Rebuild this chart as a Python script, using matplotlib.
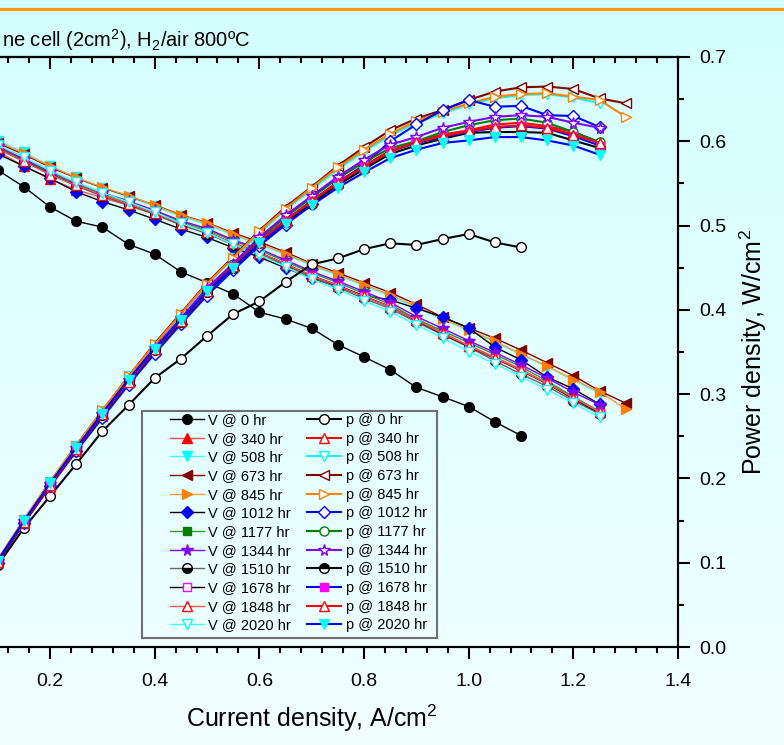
import numpy as np
import matplotlib
matplotlib.use("Agg")
import matplotlib.pyplot as plt
from matplotlib.lines import Line2D
from matplotlib.patches import Rectangle
from matplotlib.ticker import MultipleLocator, FormatStrFormatter, NullFormatter, FuncFormatter

plt.rcParams['font.family'] = ['Liberation Sans', 'DejaVu Sans']
plt.rcParams['mathtext.fontset'] = 'custom'
plt.rcParams['mathtext.rm'] = 'Liberation Sans'
plt.rcParams['mathtext.it'] = 'Liberation Sans:italic'

# current density, A/cm2
current = [0.10, 0.15, 0.20, 0.25, 0.30, 0.35, 0.40, 0.45, 0.50, 0.55, 0.60, 0.65,
           0.70, 0.75, 0.80, 0.85, 0.90, 0.95, 1.00, 1.05, 1.10, 1.15, 1.20, 1.25]
current_long = current + [1.30]
current_0hr = current[:21]

hours = ['0', '340', '508', '673', '845', '1012', '1177', '1344', '1510', '1678', '1848', '2020']

# cell voltage, V
v_0 = [0.970, 0.936, 0.895, 0.866, 0.854, 0.819, 0.799, 0.763, 0.741, 0.718, 0.681, 0.667,
       0.648, 0.615, 0.590, 0.564, 0.528, 0.509, 0.489, 0.458, 0.430]
v_340 = [1.008, 0.978, 0.952, 0.930, 0.914, 0.898, 0.880, 0.860, 0.843, 0.821, 0.802, 0.779,
         0.756, 0.736, 0.714, 0.693, 0.666, 0.640, 0.613, 0.590, 0.565, 0.537, 0.509, 0.479]
v_508 = [1.030, 1.006, 0.979, 0.955, 0.934, 0.916, 0.896, 0.876, 0.859, 0.838, 0.819, 0.798,
         0.776, 0.756, 0.735, 0.714, 0.691, 0.666, 0.644, 0.620, 0.595, 0.570, 0.543, 0.516]
v_673 = [1.025, 1.002, 0.976, 0.954, 0.934, 0.917, 0.899, 0.879, 0.863, 0.842, 0.824, 0.803,
         0.780, 0.761, 0.741, 0.721, 0.697, 0.671, 0.649, 0.628, 0.604, 0.578, 0.552, 0.521, 0.496]
v_845 = [1.028, 1.004, 0.978, 0.955, 0.935, 0.918, 0.898, 0.878, 0.862, 0.840, 0.821, 0.800,
         0.778, 0.758, 0.737, 0.716, 0.693, 0.668, 0.645, 0.622, 0.596, 0.571, 0.544, 0.519, 0.484]
v_1012 = [1.003, 0.978, 0.953, 0.926, 0.906, 0.889, 0.870, 0.850, 0.833, 0.812, 0.793, 0.771,
          0.750, 0.733, 0.715, 0.706, 0.689, 0.671, 0.649, 0.610, 0.584, 0.549, 0.525, 0.494]
v_1177 = [1.017, 0.992, 0.965, 0.942, 0.922, 0.905, 0.886, 0.865, 0.848, 0.826, 0.807, 0.784,
          0.761, 0.741, 0.719, 0.697, 0.667, 0.643, 0.619, 0.595, 0.570, 0.541, 0.509, 0.479]
v_1344 = [1.018, 0.993, 0.967, 0.944, 0.924, 0.907, 0.888, 0.867, 0.851, 0.828, 0.810, 0.787,
          0.764, 0.744, 0.723, 0.701, 0.672, 0.648, 0.623, 0.599, 0.574, 0.547, 0.518, 0.493]
v_1510 = [1.013, 0.988, 0.961, 0.938, 0.917, 0.899, 0.880, 0.858, 0.841, 0.818, 0.799, 0.776,
          0.752, 0.731, 0.709, 0.688, 0.661, 0.635, 0.610, 0.582, 0.555, 0.530, 0.501, 0.474]
v_1678 = [1.014, 0.989, 0.962, 0.939, 0.919, 0.901, 0.882, 0.861, 0.844, 0.821, 0.802, 0.779,
          0.755, 0.735, 0.713, 0.692, 0.664, 0.637, 0.611, 0.587, 0.562, 0.535, 0.505, 0.476]
v_1848 = [1.014, 0.988, 0.961, 0.939, 0.919, 0.901, 0.882, 0.861, 0.844, 0.821, 0.802, 0.779,
          0.755, 0.735, 0.713, 0.692, 0.665, 0.638, 0.612, 0.588, 0.563, 0.536, 0.507, 0.478]
v_2020 = [1.021, 0.996, 0.969, 0.945, 0.924, 0.905, 0.885, 0.862, 0.843, 0.819, 0.798, 0.773,
          0.748, 0.727, 0.704, 0.682, 0.655, 0.629, 0.601, 0.576, 0.550, 0.523, 0.496, 0.467]

# power density, W/cm2
p_0 = [0.097, 0.141, 0.179, 0.217, 0.256, 0.287, 0.319, 0.342, 0.369, 0.395, 0.410, 0.433,
       0.454, 0.461, 0.472, 0.479, 0.477, 0.484, 0.490, 0.480, 0.474]
p_340 = [0.101, 0.147, 0.190, 0.233, 0.274, 0.314, 0.352, 0.387, 0.422, 0.452, 0.481, 0.506,
         0.529, 0.552, 0.571, 0.589, 0.599, 0.608, 0.613, 0.620, 0.622, 0.618, 0.611, 0.599]
p_508 = [0.103, 0.151, 0.196, 0.239, 0.280, 0.321, 0.358, 0.394, 0.430, 0.461, 0.491, 0.519,
         0.543, 0.567, 0.588, 0.607, 0.622, 0.633, 0.644, 0.651, 0.655, 0.656, 0.652, 0.645]
p_673 = [0.103, 0.150, 0.195, 0.239, 0.280, 0.321, 0.360, 0.396, 0.432, 0.463, 0.494, 0.522,
         0.546, 0.571, 0.593, 0.613, 0.627, 0.637, 0.649, 0.659, 0.664, 0.665, 0.662, 0.651, 0.645]
p_845 = [0.103, 0.151, 0.196, 0.239, 0.281, 0.321, 0.359, 0.395, 0.431, 0.462, 0.493, 0.520,
         0.545, 0.569, 0.590, 0.609, 0.624, 0.635, 0.645, 0.653, 0.656, 0.657, 0.653, 0.649, 0.629]
p_1012 = [0.100, 0.147, 0.191, 0.232, 0.272, 0.311, 0.348, 0.383, 0.417, 0.447, 0.476, 0.501,
          0.525, 0.550, 0.572, 0.600, 0.620, 0.637, 0.649, 0.641, 0.642, 0.631, 0.630, 0.617]
p_1177 = [0.102, 0.149, 0.193, 0.236, 0.277, 0.317, 0.354, 0.389, 0.424, 0.454, 0.484, 0.510,
          0.533, 0.556, 0.575, 0.592, 0.600, 0.611, 0.619, 0.625, 0.627, 0.622, 0.611, 0.599]
p_1344 = [0.102, 0.149, 0.193, 0.236, 0.277, 0.317, 0.355, 0.390, 0.426, 0.455, 0.486, 0.512,
          0.535, 0.558, 0.578, 0.596, 0.605, 0.616, 0.623, 0.629, 0.631, 0.629, 0.622, 0.616]
p_1510 = [0.101, 0.148, 0.192, 0.235, 0.275, 0.315, 0.352, 0.386, 0.421, 0.450, 0.479, 0.504,
          0.526, 0.548, 0.567, 0.585, 0.595, 0.603, 0.610, 0.611, 0.611, 0.610, 0.601, 0.592]
p_1678 = [0.101, 0.148, 0.192, 0.235, 0.276, 0.315, 0.353, 0.387, 0.422, 0.452, 0.481, 0.506,
          0.529, 0.551, 0.570, 0.588, 0.598, 0.605, 0.611, 0.616, 0.618, 0.615, 0.606, 0.595]
p_1848 = [0.101, 0.148, 0.192, 0.235, 0.276, 0.315, 0.353, 0.387, 0.422, 0.452, 0.481, 0.506,
          0.529, 0.551, 0.570, 0.588, 0.599, 0.606, 0.612, 0.617, 0.619, 0.616, 0.608, 0.598]
p_2020 = [0.102, 0.149, 0.194, 0.236, 0.277, 0.317, 0.354, 0.388, 0.422, 0.450, 0.479, 0.502,
          0.524, 0.545, 0.563, 0.580, 0.590, 0.598, 0.601, 0.605, 0.605, 0.601, 0.595, 0.584]

x_data = [current_0hr, current, current, current_long, current_long, current, current,
          current, current, current, current, current]
v_data = [v_0, v_340, v_508, v_673, v_845, v_1012, v_1177, v_1344, v_1510, v_1678, v_1848, v_2020]
p_data = [p_0, p_340, p_508, p_673, p_845, p_1012, p_1177, p_1344, p_1510, p_1678, p_1848, p_2020]

# (line colour, marker, face, edge, fillstyle, size) for V and p
v_style = [
    ('black', 'o', 'black', 'black', 'full', 7.0),
    ('#FF5050', '^', 'red', 'red', 'full', 7.0),
    ('#40FFFF', 'v', 'cyan', 'cyan', 'full', 7.0),
    ('#800000', '<', '#800000', '#800000', 'full', 7.0),
    ('#FF9933', '>', '#FF8000', '#FF8000', 'full', 7.0),
    ('black', 'D', 'blue', 'blue', 'full', 6.0),
    ('#339933', 's', 'green', 'green', 'full', 6.0),
    ('#8000FF', '*', '#8000FF', '#8000FF', 'full', 8.5),
    ('#666666', 'o', 'black', 'black', 'bottom', 7.0),
    ('black', 's', 'white', 'magenta', 'full', 6.0),
    ('#FF5050', '^', 'white', 'red', 'full', 7.0),
    ('#40FFFF', 'v', 'white', 'cyan', 'full', 7.0),
]
p_style = [
    ('black', 'o', 'white', 'black', 'full', 7.0),
    ('red', '^', 'white', 'red', 'full', 7.0),
    ('cyan', 'v', 'white', 'cyan', 'full', 7.0),
    ('#800000', '<', 'white', '#800000', 'full', 7.0),
    ('#FF8000', '>', 'white', '#FF8000', 'full', 7.0),
    ('blue', 'D', 'white', 'blue', 'full', 6.0),
    ('green', 'o', 'white', 'green', 'full', 6.5),
    ('#8000FF', '*', 'white', '#8000FF', 'full', 8.5),
    ('black', 'o', 'black', 'black', 'top', 7.0),
    ('blue', 's', 'magenta', 'magenta', 'full', 6.0),
    ('red', '^', 'white', 'red', 'full', 7.0),
    ('blue', 'v', 'cyan', 'cyan', 'full', 7.0),
]

W, H = 784, 745
fig = plt.figure(figsize=(W / 100, H / 100), dpi=100)

# light cyan gradient background
bg = fig.add_axes([0, 0, 1, 1], zorder=-10)
g = np.linspace(0, 1, 256)[:, None, None]
top_c = np.array([211, 255, 255]) / 255
bot_c = np.array([242, 255, 255]) / 255
bg.imshow(top_c + (bot_c - top_c) * g, aspect='auto', extent=[0, 1, 0, 1], origin='upper')
bg.axis('off')

fig.add_artist(Line2D([0, 1], [1 - 8.5 / H, 1 - 8.5 / H], transform=fig.transFigure,
                      color='#FF9900', lw=2.3))

x0 = 678 - 1.4 * (678 - 50) / 1.2
ax = fig.add_axes([x0 / W, (H - 647) / H, (678 - x0) / W, (647 - 57) / H])
ax.set_facecolor('none')
ax.set_xlim(0, 1.4)
ax.set_ylim(0, 1.2)
ax2 = ax.twinx()
ax2.set_ylim(0, 0.7)

v_lines, p_lines = [], []
for k, h in enumerate(hours):
    c, m, fc, ec, fs, ms = v_style[k]
    ln, = ax.plot(x_data[k], v_data[k], color=c, lw=1.0, marker=m, mfc=fc, mec=ec,
                  fillstyle=fs, markerfacecoloralt='white', ms=ms, mew=1.0,
                  label=f'V @ {h} hr')
    v_lines.append(ln)
for k, h in enumerate(hours):
    c, m, fc, ec, fs, ms = p_style[k]
    ln, = ax2.plot(x_data[k], p_data[k], color=c, lw=1.5, marker=m, mfc=fc, mec=ec,
                   fillstyle=fs, markerfacecoloralt='white', ms=ms, mew=1.0,
                   label=f'p @ {h} hr')
    p_lines.append(ln)

for a in (ax, ax2):
    for s in a.spines.values():
        s.set_linewidth(1.5)

ax.xaxis.set_major_locator(MultipleLocator(0.2))
ax.xaxis.set_minor_locator(MultipleLocator(0.04))
ax.xaxis.set_major_formatter(FuncFormatter(lambda v, pos: '' if abs(v) < 1e-9 else f'{v:.1f}'))
ax.tick_params(axis='x', which='both', direction='out', top=False, labelsize=14, width=1.5, pad=10)
ax.tick_params(axis='x', which='major', length=8.5)
ax.tick_params(axis='x', which='minor', length=4.5)
ax.tick_params(axis='y', which='both', left=False, labelleft=False)

sec = ax.secondary_xaxis('top')
sec.xaxis.set_major_locator(MultipleLocator(0.2))
sec.xaxis.set_minor_locator(MultipleLocator(0.04))
sec.xaxis.set_major_formatter(NullFormatter())
sec.tick_params(which='both', direction='in', width=1.5)
sec.tick_params(which='major', length=8.5)
sec.tick_params(which='minor', length=4.5)
sec.spines['top'].set_linewidth(1.5)

ax2.yaxis.set_major_locator(MultipleLocator(0.1))
ax2.yaxis.set_minor_locator(MultipleLocator(0.05))
ax2.yaxis.set_major_formatter(FormatStrFormatter('%.1f'))
ax2.tick_params(axis='y', which='both', direction='out', labelsize=14, width=1.5, pad=7)
ax2.tick_params(axis='y', which='major', length=8.5)
ax2.tick_params(axis='y', which='minor', length=4.5)

ax.set_xlabel('Current density, A/cm$^2$', fontsize=18, labelpad=9)
ax2.set_ylabel('Power density, W/cm$^2$', fontsize=18, labelpad=8)

# title: only its right part is inside the picture
title = fig.text(2 / W, 1 - 40 / H, 'ne cell (2cm$^2$), H$_2$/air 800ºC',
                 ha='left', va='center', fontsize=13)
fig.canvas.draw()
tw = title.get_window_extent().width
title.set_fontsize(13 * 248 / tw)

leg = ax2.legend(handles=v_lines + p_lines, ncol=2, loc='upper left',
                 bbox_to_anchor=(170 / W, 1 - 413 / H), bbox_transform=fig.transFigure,
                 fontsize=10.5, frameon=False, handlelength=2.35, handletextpad=0.28,
                 columnspacing=1.1, labelspacing=0.32, borderpad=0, borderaxespad=0)
fig.add_artist(Rectangle((142 / W, 1 - 638 / H), 295 / W, 227 / H, transform=fig.transFigure,
                         fill=False, ec='#707070', lw=1.5))

fig.savefig('out.png', dpi=100)
